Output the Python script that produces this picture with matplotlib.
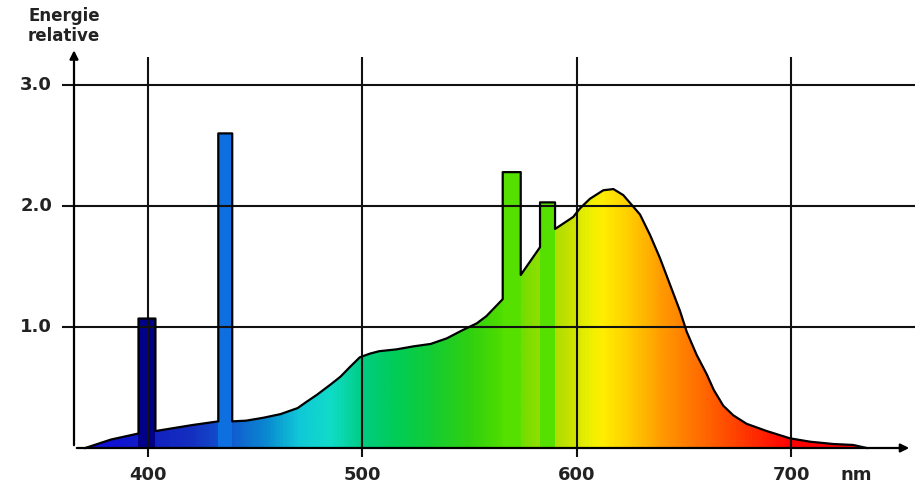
import numpy as np
import matplotlib
matplotlib.use("Agg")
import matplotlib.pyplot as plt
from matplotlib.colors import LinearSegmentedColormap
from matplotlib.patches import Polygon

# ---- data ----
curve_nm = [371, 383, 395.8, 403.7, 421, 433, 439.5, 446, 454, 462, 470, 474, 479, 485,
            490, 494.4, 499, 503.7, 508, 516, 524, 532, 539.5, 547, 553.5, 558, 565.6,
            574, 583, 590, 598.5, 601.6, 606.3, 612.5, 617.2, 621.8, 625.7, 629.6,
            634.3, 638.9, 643.6, 648.3, 651.4, 656, 660.7, 664, 668.4, 673.1, 679.3,
            688.7, 699.5, 708.9, 719.7, 729, 735.3]
curve_val = [0.0, 0.07, 0.12, 0.14, 0.19, 0.22, 0.22, 0.226, 0.25, 0.28, 0.33, 0.38, 0.44,
             0.52, 0.59, 0.67, 0.75, 0.78, 0.80, 0.815, 0.84, 0.86, 0.906, 0.975, 1.03,
             1.09, 1.23, 1.43, 1.66, 1.81, 1.91, 1.98, 2.06, 2.13, 2.14, 2.09, 2.01, 1.93,
             1.76, 1.57, 1.35, 1.13, 0.96, 0.77, 0.61, 0.48, 0.35, 0.27, 0.20, 0.14,
             0.08, 0.052, 0.033, 0.025, 0.0]

bar_left = [395.8, 433, 565.6, 583]
bar_right = [403.7, 439.5, 574, 590]
bar_top = [1.07, 2.60, 2.28, 2.03]
bar_colors = ["#000088", "#0d6fe0", "#55e000", "#55e000"]

xticks = [400, 500, 600, 700]
xtick_labels = ["400", "500", "600", "700"]
yticks = [1.0, 2.0, 3.0]
ytick_labels = ["1.0", "2.0", "3.0"]

grad_nm = [360, 380, 400, 420, 440, 455, 470, 485, 500, 515, 530, 550, 565, 580,
           595, 606, 612, 625, 640, 660, 680, 700, 760]
grad_col = ["#1010d8", "#1010d8", "#1020c0", "#1530c0", "#1060d0", "#0a8ad0", "#10c8d8",
            "#10dcc8", "#00cc80", "#00cc58", "#10cc38", "#30d010", "#50dd00", "#88dd00",
            "#c0e000", "#eef000", "#ffee00", "#ffcc00", "#ff9900", "#ff6600", "#ff3300",
            "#ff0000", "#ff0000"]

# ---- figure ----
W, H = 915, 484
fig = plt.figure(figsize=(W / 100, H / 100), dpi=100)
ax = fig.add_axes([0, 0, 1, 1])
px_per_nm = 2.145
x0 = 400 - 147.5 / px_per_nm
x1 = 400 + (W - 147.5) / px_per_nm
px_per_v = 121.0
y0 = -(H - 448) / px_per_v
y1 = 448 / px_per_v
ax.set_xlim(x0, x1)
ax.set_ylim(y0, y1)
ax.axis("off")

# gradient fill under the curve
gmin, gmax = grad_nm[0], grad_nm[-1]
pos = [(g - gmin) / (gmax - gmin) for g in grad_nm]
cmap = LinearSegmentedColormap.from_list("spec", list(zip(pos, grad_col)))
grad = np.linspace(0, 1, 800).reshape(1, -1)
im = ax.imshow(grad, extent=[gmin, gmax, 0, 3.0], aspect="auto", cmap=cmap,
               origin="lower", zorder=1, interpolation="bilinear")
poly_pts = list(zip(curve_nm, curve_val)) + [(curve_nm[-1], 0), (curve_nm[0], 0)]
poly = Polygon(poly_pts, closed=True, transform=ax.transData, facecolor="none",
               edgecolor="none")
ax.add_patch(poly)
im.set_clip_path(poly)

# bars (emission lines)
widths = [r - l for l, r in zip(bar_left, bar_right)]
ax.bar(bar_left, bar_top, width=widths, align="edge", color=bar_colors,
       edgecolor="none", zorder=2)

# outline of curve with bars
ox, oy = [], []
for xv, yv in zip(curve_nm, curve_val):
    ox.append(xv)
    oy.append(yv)
    if xv in bar_left:
        i = bar_left.index(xv)
        ox += [bar_left[i], bar_right[i]]
        oy += [bar_top[i], bar_top[i]]
ax.plot(ox, oy, color="black", lw=1.6, zorder=4, solid_joinstyle="round")

# grid lines
gx_left = 400 - (147.5 - 62) / px_per_nm
ax.hlines(yticks, gx_left, x1, colors="#111111", lw=1.5, zorder=3)
ax.vlines(xticks, -0.075, 3.23, colors="#111111", lw=1.5, zorder=3)

# axes with arrows
ax_x = 400 - (147.5 - 74) / px_per_nm
ax.annotate("", xy=(x1 - 3 / px_per_nm, 0), xytext=(ax_x, 0),
            arrowprops=dict(arrowstyle="-|>,head_length=0.5,head_width=0.25",
                            color="black", lw=1.6), zorder=5)
ax.annotate("", xy=(ax_x, 3.31), xytext=(ax_x, 0),
            arrowprops=dict(arrowstyle="-|>,head_length=0.5,head_width=0.25",
                            color="black", lw=1.6), zorder=5)

# tick labels
fontkw = dict(family="DejaVu Sans", fontweight="bold", fontsize=13, color="#222222")
for v, lab in zip(yticks, ytick_labels):
    ax.text(400 - (147.5 - 52) / px_per_nm, v, lab, ha="right", va="center", **fontkw)
for xv, lab in zip(xticks, xtick_labels):
    ax.text(xv, -(475 - 448) / px_per_v, lab, ha="center", va="center", **fontkw)
ax.text(400 + (856 - 147.5) / px_per_nm, -(475 - 448) / px_per_v, "nm",
        ha="center", va="center", **fontkw)

fig.text(28 / W, 1 - 7 / H, "Energie\nrelative", ha="left", va="top",
         family="DejaVu Sans", fontweight="bold", fontsize=12, color="#222222",
         linespacing=1.15)

fig.savefig("out.png", dpi=100)
